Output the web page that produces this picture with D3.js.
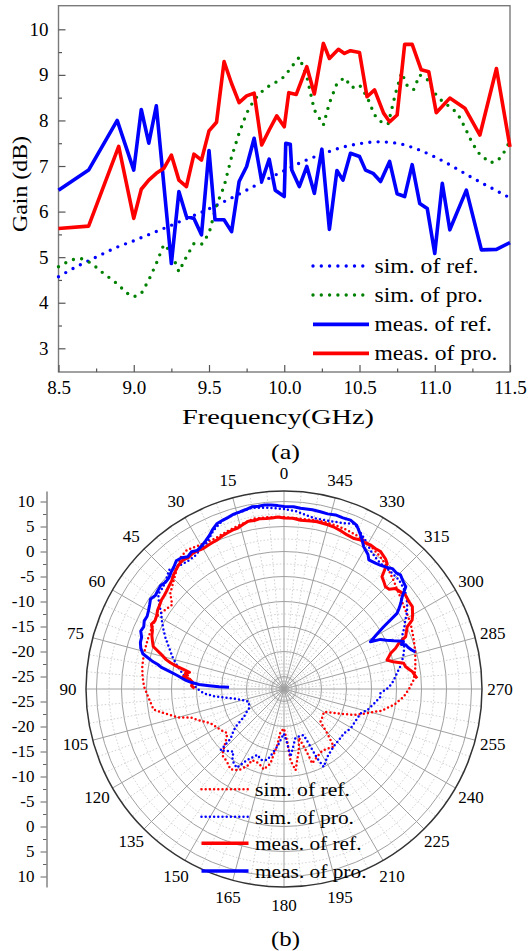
<!DOCTYPE html>
<html>
<head>
<meta charset="utf-8">
<script src="https://cdn.jsdelivr.net/npm/d3@7"></script>
<style>
  body { margin: 0; background: #fff; }
</style>
</head>
<body>
<svg id="chart"></svg>
<script>
// ---- panel (a): gain vs frequency ----
const simRefFreq = [8.5, 8.625, 8.75, 8.875, 9.0, 9.125, 9.25, 9.375, 9.5, 9.625, 9.75, 9.875, 10.0,
  10.125, 10.25, 10.375, 10.5, 10.625, 10.75, 10.875, 11.0, 11.125, 11.25, 11.375, 11.5];
const simRefGain = [4.57, 4.80, 5.00, 5.20, 5.36, 5.53, 5.70, 5.88, 6.06, 6.26, 6.47, 6.69, 6.90,
  7.10, 7.26, 7.40, 7.49, 7.53, 7.50, 7.38, 7.20, 6.98, 6.74, 6.52, 6.30];

const simProFreq = [8.5, 8.55, 8.6, 8.65, 8.7, 8.75, 8.8, 8.85, 8.9, 8.95, 9.0, 9.05, 9.1, 9.15, 9.2,
  9.25, 9.3, 9.35, 9.4, 9.45, 9.5, 9.55, 9.6, 9.65, 9.7, 9.75, 9.8, 9.85, 9.9, 9.95, 10.0, 10.05,
  10.1, 10.15, 10.2, 10.26, 10.3, 10.35, 10.4, 10.45, 10.5, 10.55, 10.6, 10.65, 10.69, 10.74, 10.78,
  10.82, 10.86, 10.9, 10.95, 11.0, 11.05, 11.1, 11.15, 11.2, 11.25, 11.3, 11.37, 11.42, 11.46, 11.5];
const simProGain = [4.79, 4.88, 4.95, 4.97, 4.90, 4.78, 4.64, 4.52, 4.39, 4.22, 4.13, 4.20, 4.50, 4.86, 5.28,
  5.10, 4.68, 5.01, 5.30, 5.28, 5.52, 6.14, 6.55, 7.20, 7.72, 8.16, 8.45, 8.63, 8.76, 8.85, 8.96, 9.18,
  9.39, 8.96, 8.23, 7.90, 8.38, 8.81, 8.94, 8.72, 8.78, 8.52, 8.12, 7.95, 7.92, 8.60, 9.05,
  8.74, 8.68, 9.00, 8.90, 8.60, 8.42, 8.30, 8.16, 7.85, 7.50, 7.25, 7.07, 7.12, 7.30, 7.55];

const measRefFreq = [8.5, 8.7, 8.89, 9.0, 9.05, 9.1, 9.15, 9.25, 9.3, 9.35, 9.4, 9.45, 9.5, 9.54, 9.6,
  9.65, 9.7, 9.75, 9.8, 9.85, 9.9, 9.94, 10.0, 10.01, 10.04, 10.05, 10.1, 10.15, 10.2, 10.25, 10.3,
  10.35, 10.39, 10.44, 10.5, 10.54, 10.59, 10.64, 10.7, 10.75, 10.8, 10.85, 10.9, 10.95, 11.0, 11.05,
  11.1, 11.21, 11.31, 11.41, 11.5];
const measRefGain = [6.47, 6.91, 8.00, 6.91, 8.24, 7.50, 8.32, 4.86, 6.44, 5.89, 5.85, 5.49, 7.34, 5.82, 5.82,
  5.56, 6.66, 6.99, 7.61, 6.66, 7.15, 6.47, 6.33, 7.50, 7.48, 6.91, 6.55, 6.99, 6.40, 7.37, 5.61,
  6.90, 6.69, 7.28, 7.21, 6.91, 6.84, 6.66, 7.10, 6.39, 6.33, 7.03, 6.18, 6.07, 5.08, 6.62,
  5.60, 6.47, 5.16, 5.17, 5.32];

const measProFreq = [8.5, 8.7, 8.9, 9.0, 9.05, 9.1, 9.15, 9.2, 9.25, 9.3, 9.35, 9.4, 9.45, 9.5, 9.55,
  9.6, 9.65, 9.7, 9.75, 9.8, 9.85, 9.9, 9.95, 10.0, 10.03, 10.08, 10.15, 10.2, 10.26, 10.3, 10.36,
  10.4, 10.44, 10.5, 10.55, 10.6, 10.66, 10.7, 10.75, 10.8, 10.85, 10.91, 10.96, 11.01, 11.1, 11.2,
  11.3, 11.41, 11.5];
const measProGain = [5.63, 5.68, 7.43, 5.85, 6.49, 6.69, 6.84, 6.95, 7.24, 6.69, 6.55, 7.26, 7.13, 7.77, 7.96,
  9.29, 8.81, 8.39, 8.54, 8.60, 7.46, 7.79, 8.10, 7.86, 8.61, 8.57, 9.18, 8.58, 9.69, 9.36, 9.56,
  9.47, 9.53, 9.49, 8.52, 8.67, 8.16, 7.97, 8.12, 9.67, 9.67, 9.11, 9.07, 8.17, 8.49, 8.27,
  7.68, 9.14, 7.42];

const freqTicks = [8.5, 9.0, 9.5, 10.0, 10.5, 11.0, 11.5];
const gainTicks = [3, 4, 5, 6, 7, 8, 9, 10];
const legendA = ["sim. of ref.", "sim. of pro.", "meas. of ref.", "meas. of pro."];

// ---- panel (b): radiation pattern, [angle deg, gain dB] ----
const polarSimRef = [[0,6.9],[5,7.0],[10,7.1],[15,6.5],[20,6.0],[25,5.6],[30,5.8],[35,6.4],[38,6.0],[42,4.6],
  [45.3,3.5],[50,2.2],[53,0.5],[56,1.0],[60,1.8],[66,1.6],[70,1.5],[75.7,1.4],[81,1.2],[85,0.9],[89,0.5],
  [94,-0.4],[99,-1.1],[102,-3.5],[105,-5.5],[107,-8.0],[110,-9.3],[115,-11.3],[118,-11.8],[122.8,-12.4],
  [127.9,-13.1],[131,-12.2],[134.6,-10.6],[136.9,-9.4],[142,-9.0],[146.3,-8.2],[150.8,-8.9],[154.5,-10.4],
  [155.9,-11.9],[161.3,-11.8],[165.9,-10.9],[169.7,-12.4],[173.1,-16.2],[175.3,-18.9],[180,-19.6],
  [183.5,-16.9],[185.2,-13.2],[188.1,-11.1],[193.6,-14.9],[197,-17.3],[200,-13.8],[200.8,-11.6],[206,-12.4],
  [212,-13.0],[220.8,-12.3],[224.3,-15.1],[228.1,-17.7],[234,-18.0],[240.3,-18.3],[245.4,-15.8],
  [249.6,-12.6],[253.7,-10.2],[257.5,-7.5],[262,-5.2],[266.3,-3.5],[270,-2.5],[274,-1.5],[278,-1.0],
  [282.4,-0.6],[286,-0.2],[290.7,0.25],[294,0.6],[297.4,1.0],[301,1.3],[304.5,1.6],[308,2.1],[311.2,2.6],
  [314,3.2],[317.4,3.9],[320,4.5],[323.9,5.2],[328,5.8],[331.8,6.3],[335,6.5],[338.3,6.7],[342,6.8],
  [346.6,6.9],[350,6.8],[354.5,6.7],[360,6.9]];

const polarSimPro = [[0,8.5],[5,8.9],[10,9.3],[15,8.9],[20,8.4],[24,7.2],[28,5.5],[31,5.0],[34,4.5],[37,4.5],
  [40,4.8],[44,5.6],[47,4.7],[50,4.1],[53,4.0],[56,2.6],[58,1.5],[61,0.4],[64,-0.7],[67,-1.8],[70,-3.0],
  [74,-4.3],[78,-5.7],[82,-7.2],[86,-8.8],[90,-10.2],[93,-11.4],[96,-13.5],[98,-15.3],[102,-17.9],
  [106,-19.2],[110,-20.0],[115,-19.8],[119,-19.5],[122,-18.6],[125,-17.7],[128,-15.2],[131,-13.8],
  [133,-12.9],[134,-9.8],[137,-10.6],[141,-11.4],[144,-9.9],[149,-9.1],[152.6,-11.5],[158,-13.3],
  [162,-12.6],[166.7,-12.9],[170,-14.5],[173.3,-15.9],[176,-17.2],[179.7,-18.6],[183.4,-16.6],
  [185.5,-13.9],[189,-15.8],[193,-17.4],[198,-17.6],[203,-17.5],[204.7,-14.8],[205.6,-12.1],[207,-10.0],
  [212.5,-11.4],[220.8,-12.3],[227,-12.5],[233.5,-12.6],[239.4,-12.0],[243.8,-11.9],[252.4,-11.4],
  [255.8,-10.3],[261,-9.2],[265.5,-8.1],[267.4,-8.2],[271,-6.5],[274,-5.6],[277.9,-4.7],[282,-3.5],
  [286.6,-2.5],[290,-1.9],[293.9,-1.7],[297,-0.5],[299.6,0.4],[302,1.5],[304.8,2.5],[307,3.2],
  [309.4,3.7],[313.5,4.2],[317.8,4.2],[322.5,4.2],[325,4.5],[328.1,5.2],[331,6.3],[333.1,7.0],[335,7.8],
  [337.1,8.4],[340,7.8],[343.4,7.4],[347,7.2],[350,7.2],[353,7.6],[355.8,8.1],[360,8.5]];

const polarMeasRef = [[274.6,-0.8],[276,-1.2],[277.7,-1.6],[279,-2.2],[280.5,-2.8],[282.1,-3.0],[284,-5.0],
  [285.7,-6.1],[287,-5.6],[288.5,-5.0],[290,-3.8],[291.7,-2.8],[293.3,-1.0],[295,-0.5],[296.8,0.1],
  [298.3,1.6],[300,2.2],[302.7,3.0],[305,3.0],[307.7,3.2],[310,2.8],[312.1,2.5],[313.5,1.5],[315.2,1.3],
  [317,1.8],[318.9,2.3],[320.6,5.0],[322,5.5],[324.9,6.1],[327,6.0],[329,6.1],[331,5.9],[332.8,6.0],
  [335,5.7],[337.7,5.8],[340,6.1],[342.9,6.4],[345,6.5],[348.8,6.6],[351,6.5],[354.4,6.4],[357,6.7],
  [0,6.7],[2,6.9],[4,6.8],[6,6.8],[8,6.9],[10,6.7],[12,6.8],[14,6.4],[16,6.0],[18,5.9],[20,5.7],[22,5.5],
  [24,5.2],[26,5.1],[28,5.0],[30,4.9],[32,5.1],[34,5.2],[36,5.0],[38,5.3],[40,5.1],[42,4.7],[44,4.3],
  [46,3.7],[48,3.4],[50,3.1],[52,2.9],[54,2.8],[56,2.5],[58,2.3],[60,1.9],[62,1.7],[64,2.0],[66,1.3],
  [68,1.0],[70,0.5],[72,0.0],[74,-1.8],[76,-3.2],[77,-4.2],[78,-5.5],[79,-7.0],[80,-8.3],[81,-7.5],
  [82,-8.0],[83,-7.2],[84,-8.5],[86,-9.2],[88,-9.0],[89.6,-9.6]];

const polarMeasPro = [[285.8,-0.2],[287,-0.8],[288.5,-1.3],[290,-1.6],[290.8,-2.4],[291.8,-1.8],[293.7,-3.5],
  [295.5,-4.8],[297.2,-5.8],[298.7,-7.8],[300.5,-6.0],[302,-4.0],[303.8,-0.3],[305,0.6],[306.5,1.6],
  [308,2.5],[310,4.3],[312,4.6],[314.4,5.1],[316,4.8],[318,4.9],[320,4.3],[322,3.9],[324,3.6],
  [326.7,3.4],[328,4.2],[330.7,5.1],[333,6.6],[334.8,7.6],[336,8.3],[338.5,8.8],[341,8.7],[343.5,8.8],
  [346,8.6],[348.4,8.7],[351,8.8],[354.8,8.8],[357,9.0],[0,9.0],[2,9.2],[4,9.4],[6,9.5],[8,9.4],[10,9.5],
  [12,9.2],[14,9.0],[16,8.9],[18,8.6],[20,8.4],[22,8.2],[24,7.5],[26,6.6],[28,6.0],[30,5.5],[32,5.2],
  [34,5.6],[36,5.2],[38,5.8],[40,6.0],[42,5.4],[44,5.0],[46,4.5],[48,4.4],[50,4.7],[52,4.5],[54,4.3],
  [56,4.7],[58,4.2],[60,3.8],[62,3.5],[64,3.6],[66,3.2],[68,3.4],[70,2.8],[72,2.7],[74,2.3],[76,1.6],
  [77,0.5],[78,-0.5],[79,-1.8],[80,-2.6],[81,-4.0],[82,-5.2],[83,-6.2],[84,-7.0],[85,-7.8],[86,-9.0],
  [87,-10.5],[87.5,-12.5],[88,-14.5],[88.3,-16.5]];

const radialTicks = [-25, -20, -15, -10, -5, 0, 5, 10];
const radialMinor = [-22.5, -17.5, -12.5, -7.5, -2.5, 2.5, 7.5];
const angleLabels = d3.range(0, 360, 15);
const legendB = ["sim. of ref.", "sim. of pro.", "meas. of ref.", "meas. of pro."];

const width = 528, height = 951;
const serif = '"Liberation Serif", "Times New Roman", serif';

const svg = d3.select("#chart")
  .attr("width", width)
  .attr("height", height)
  .attr("viewBox", `0 0 ${width} ${height}`);

svg.append("rect").attr("width", width).attr("height", height).attr("fill", "#fff");

// stretch a text to a measured width (the figure's fonts are a bit wide)
function fit(sel, w) {
  sel.attr("textLength", w).attr("lengthAdjust", "spacingAndGlyphs");
}

// ================= (a) =================
const x = d3.scaleLinear().domain([8.5, 11.5]).range([58.5, 510]);
const y = d3.scaleLinear().domain([10, 3]).range([29.3, 348.3]);
const frameTop = 5.7, frameBottom = 372;

const gA = svg.append("g");

gA.append("rect")
  .attr("x", x(8.5)).attr("y", frameTop)
  .attr("width", x(11.5) - x(8.5)).attr("height", frameBottom - frameTop)
  .attr("fill", "none").attr("stroke", "#7a7a7a").attr("stroke-width", 1.4);

function styleAxis(g, size) {
  g.select(".domain").remove();
  g.attr("font-size", size);
  g.selectAll("line").attr("stroke", "#555").attr("stroke-width", 1.2);
  g.selectAll("text").attr("fill", "#000");
}

gA.append("g")
  .attr("transform", `translate(${x(8.5)},0)`)
  .call(d3.axisLeft(y).tickValues(gainTicks).tickSize(-7).tickPadding(10).tickFormat(d3.format("d")))
  .call(g => styleAxis(g, 19));
gA.append("g")
  .attr("transform", `translate(${x(8.5)},0)`)
  .call(d3.axisLeft(y).tickValues(gainTicks.slice(0, -1).map(v => v + 0.5)).tickSize(-3.5).tickFormat(""))
  .call(g => styleAxis(g, 19));

gA.append("g")
  .attr("transform", `translate(0,${frameBottom})`)
  .call(d3.axisBottom(x).tickValues(freqTicks).tickSize(-7).tickPadding(9).tickFormat(d3.format(".1f")))
  .call(g => styleAxis(g, 19));
gA.append("g")
  .attr("transform", `translate(0,${frameBottom})`)
  .call(d3.axisBottom(x).tickValues(freqTicks.slice(0, -1).map(v => v + 0.25)).tickSize(-3.5).tickFormat(""))
  .call(g => styleAxis(g, 19));

gA.append("text")
  .attr("transform", "translate(27,184) rotate(-90)")
  .attr("text-anchor", "middle")
  .attr("font-size", 22)
  .text("Gain (dB)")
  .call(fit, 96);

gA.append("text")
  .attr("x", 278).attr("y", 424)
  .attr("text-anchor", "middle")
  .attr("font-size", 22)
  .text("Frequency(GHz)")
  .call(fit, 192);

gA.append("text")
  .attr("x", 285.5).attr("y", 459)
  .attr("text-anchor", "middle")
  .attr("font-size", 22)
  .text("(a)")
  .call(fit, 29);

const lineA = (xs, ys, curve) => d3.line()
  .x((d, i) => x(xs[i])).y(d => y(d))
  .curve(curve || d3.curveLinear)(ys);

const seriesA = [
  { xs: simRefFreq, ys: simRefGain, color: "#0000ff", dotted: true, curve: d3.curveMonotoneX },
  { xs: simProFreq, ys: simProGain, color: "#008000", dotted: true },
  { xs: measRefFreq, ys: measRefGain, color: "#0000ff", dotted: false },
  { xs: measProFreq, ys: measProGain, color: "#ff0000", dotted: false }
];

seriesA.forEach(s => {
  gA.append("path")
    .attr("d", lineA(s.xs, s.ys, s.curve))
    .attr("fill", "none")
    .attr("stroke", s.color)
    .attr("stroke-width", s.dotted ? 3.4 : 3.6)
    .attr("stroke-linecap", s.dotted ? "round" : "butt")
    .attr("stroke-linejoin", "round")
    .attr("stroke-dasharray", s.dotted ? "0 8.3" : null);
});

const legARows = [266, 295, 324.3, 353.3];
const legAWidths = [104, 108.5, 117.5, 123];
legendA.forEach((label, i) => {
  const s = seriesA[i];
  gA.append("line")
    .attr("x1", 313).attr("x2", 369)
    .attr("y1", legARows[i]).attr("y2", legARows[i])
    .attr("stroke", s.color)
    .attr("stroke-width", s.dotted ? 3.4 : 3.8)
    .attr("stroke-linecap", s.dotted ? "round" : "butt")
    .attr("stroke-dasharray", s.dotted ? "0 8.3" : null);
  gA.append("text")
    .attr("x", 374.5).attr("y", legARows[i] + 6.7)
    .attr("font-size", 21)
    .text(label)
    .call(fit, legAWidths[i]);
});

// ================= (b) =================
const cx = 284, cy = 689, R = 198;
const r = d3.scaleLinear().domain([-27.5, 12.1]).range([0, R]);
const toRad = a => a * Math.PI / 180;

const gB = svg.append("g").attr("transform", `translate(${cx},${cy})`);

// grid circles
gB.selectAll("circle.minor").data(radialMinor).join("circle")
  .attr("r", d => r(d)).attr("fill", "none")
  .attr("stroke", "#c4c4c4").attr("stroke-width", 0.8).attr("stroke-dasharray", "1.5 2");
gB.selectAll("circle.major").data(radialTicks).join("circle")
  .attr("r", d => r(d)).attr("fill", "none")
  .attr("stroke", "#a0a0a0").attr("stroke-width", 1);

// spokes
gB.selectAll("line.minor").data(d3.range(0, 360, 5).filter(a => a % 15 !== 0)).join("line")
  .attr("x2", d => -R * Math.sin(toRad(d))).attr("y2", d => -R * Math.cos(toRad(d)))
  .attr("stroke", "#c4c4c4").attr("stroke-width", 0.8).attr("stroke-dasharray", "1.5 2");
gB.selectAll("line.major").data(angleLabels).join("line")
  .attr("x2", d => -R * Math.sin(toRad(d))).attr("y2", d => -R * Math.cos(toRad(d)))
  .attr("stroke", "#a0a0a0").attr("stroke-width", 1);

gB.append("circle").attr("r", R).attr("fill", "none")
  .attr("stroke", "#333").attr("stroke-width", 1.5);

// angle labels (counter-clockwise from top)
gB.selectAll("text.ang").data(angleLabels).join("text")
  .attr("x", d => -216 * Math.sin(toRad(d)))
  .attr("y", d => -216 * Math.cos(toRad(d)))
  .attr("text-anchor", "middle")
  .attr("dominant-baseline", "central")
  .attr("font-size", 17)
  .text(d => d);

// left radial axis, mirrored above and below the centre
const rUp = d3.scaleLinear().domain([-27.5, 12.1]).range([cy, cy - R]);
const rDown = d3.scaleLinear().domain([-27.5, 12.1]).range([cy, cy + R]);
[rUp, rDown].forEach(sc => {
  svg.append("g")
    .attr("transform", "translate(46.5,0)")
    .call(d3.axisLeft(sc).tickValues(radialTicks).tickSize(6).tickSizeOuter(0).tickPadding(6).tickFormat(d => String(d)))
    .call(g => {
      g.attr("font-size", 17);
      g.select(".domain").attr("stroke", "#666").attr("stroke-width", 1.2);
      g.selectAll("line").attr("stroke", "#666");
    });
  svg.append("g")
    .attr("transform", "translate(46.5,0)")
    .call(d3.axisLeft(sc).tickValues(radialMinor).tickSize(3.5).tickSizeOuter(0).tickFormat(""))
    .call(g => {
      g.select(".domain").remove();
      g.selectAll("line").attr("stroke", "#666");
    });
});

const radial = d3.lineRadial()
  .angle(d => -toRad(d[0]))
  .radius(d => r(d[1]));

const seriesB = [
  { data: polarSimRef, color: "#ff0000", dotted: true },
  { data: polarSimPro, color: "#0000ff", dotted: true },
  { data: polarMeasRef, color: "#ff0000", dotted: false },
  { data: polarMeasPro, color: "#0000ff", dotted: false }
];

seriesB.forEach(s => {
  gB.append("path")
    .attr("d", radial(s.data))
    .attr("fill", "none")
    .attr("stroke", s.color)
    .attr("stroke-width", s.dotted ? 2.5 : 3)
    .attr("stroke-linecap", s.dotted ? "round" : "butt")
    .attr("stroke-linejoin", "round")
    .attr("stroke-dasharray", s.dotted ? "0 4.2" : null);
});

const legBRows = [789.3, 816.7, 843.3, 871];
const legBWidths = [95, 99, 106.5, 111.5];
legendB.forEach((label, i) => {
  const s = seriesB[i];
  svg.append("line")
    .attr("x1", 201.5).attr("x2", 248.5)
    .attr("y1", legBRows[i]).attr("y2", legBRows[i])
    .attr("stroke", s.color)
    .attr("stroke-width", s.dotted ? 2.5 : 3.4)
    .attr("stroke-linecap", s.dotted ? "round" : "butt")
    .attr("stroke-dasharray", s.dotted ? "0 4.2" : null);
  svg.append("text")
    .attr("x", 255).attr("y", legBRows[i] + 7)
    .attr("font-size", 19.5)
    .text(label)
    .call(fit, legBWidths[i]);
});

svg.append("text")
  .attr("x", 285.5).attr("y", 946)
  .attr("text-anchor", "middle")
  .attr("font-size", 22)
  .text("(b)")
  .call(fit, 29);

// every text in the figure is Times-like
svg.selectAll("text").style("font-family", serif).style("fill", "#000");
</script>
</body>
</html>
